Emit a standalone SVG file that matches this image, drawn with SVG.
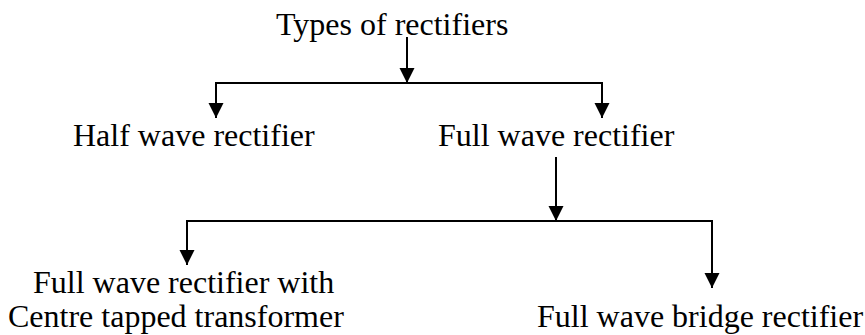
<svg xmlns="http://www.w3.org/2000/svg" width="865" height="335" viewBox="0 0 865 335">
<style>
text{font-family:"Liberation Serif","Times New Roman",serif;font-size:32px;fill:#000}
.c{fill:none;stroke:#000;stroke-width:2;marker-end:url(#ah)}
</style>
<defs>
<marker id="ah" markerUnits="userSpaceOnUse" markerWidth="15" markerHeight="16" refX="15" refY="7.5" orient="auto" viewBox="0 0 15 15">
<path d="M0,0 L15,7.5 L0,15 Z" fill="#000"/>
</marker>
</defs>
<rect width="865" height="335" fill="#fff"/>
<g id="connectors">
<path class="c" d="M407,37 V83"/>
<path class="c" d="M407,83 H216 V118"/>
<path class="c" d="M407,83 H602 V118"/>
<path class="c" d="M556,157 V221"/>
<path class="c" d="M556,221 H187 V265"/>
<path class="c" d="M556,221 H712 V288"/>
</g>
<g id="types"><text x="276" y="35">Types of rectifiers</text></g>
<g id="half"><text x="73" y="146">Half wave rectifier</text></g>
<g id="full"><text x="438" y="146">Full wave rectifier</text></g>
<g id="centre"><text x="33" y="293">Full wave rectifier with</text><text x="8" y="327">Centre tapped transformer</text></g>
<g id="bridge"><text x="537" y="327">Full wave bridge rectifier</text></g>
</svg>
